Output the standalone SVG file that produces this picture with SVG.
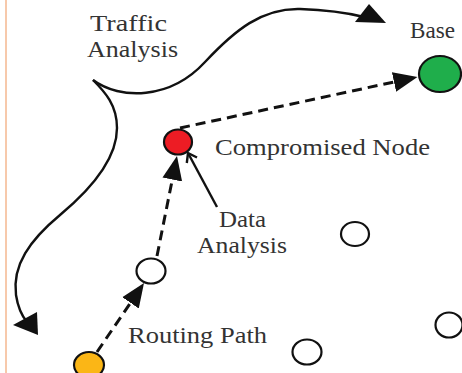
<svg xmlns="http://www.w3.org/2000/svg" width="462" height="373" viewBox="0 0 462 373">
  <style>
    .label { font-family: "Liberation Serif", "Times New Roman", serif; font-size: 23.5px; fill: #333333; }
    .node { stroke: #111; stroke-width: 2.2; }
    .plain { fill: #ffffff; }
    .route { fill: none; stroke: #111; stroke-width: 3; stroke-dasharray: 10 6; }
    .curve { fill: none; stroke: #111; stroke-width: 2.4; }
    .head { fill: #111; }
  </style>
  <defs>
    <marker id="arrow" markerUnits="userSpaceOnUse" markerWidth="26" markerHeight="22" refX="0" refY="11" orient="auto" viewBox="0 0 26 22">
      <path d="M0,1 L24,11 L0,21 z" fill="#111"/>
    </marker>
  </defs>

  <rect x="5" y="0" width="2" height="373" fill="#f7c9ab"/>

  <!-- connectors -->
  <g id="connectors">
    <!-- traffic analysis sweep -->
    <path class="curve" d="M93,80 C120,100 170,100 205,62 C235,30 262,8 300,9 C330,10 348,13 364,17"/>
    <polygon class="head" points="386,23 369,4 355,22"/>
    <path class="curve" d="M93,80 C105,92 117,105 117,128 C117,160 90,190 60,215 C30,240 12,265 16,295 C18,308 22,316 27,322"/>
    <polygon class="head" points="38,335 13,325 37,312"/>
    <!-- routing path -->
    <line class="route" x1="97" y1="352" x2="130.5" y2="302.8" marker-end="url(#arrow)"/>
    <line class="route" x1="157" y1="256" x2="172.3" y2="179.5" marker-end="url(#arrow)"/>
    <line class="route" x1="180" y1="128" x2="394" y2="82" marker-end="url(#arrow)"/>
    <!-- data analysis pointer -->
    <line class="curve" x1="217" y1="207" x2="188" y2="153"/>
    <polyline class="curve" points="186.8,163 188,153 197,157.5"/>
  </g>

  <!-- nodes -->
  <g id="base">
    <ellipse class="node" cx="440" cy="74" rx="21" ry="18" fill="#1fae4b"/>
  </g>
  <g id="compromised">
    <ellipse class="node" cx="178" cy="142" rx="14" ry="12.5" fill="#ed1c24"/>
  </g>
  <g id="relay">
    <ellipse class="node plain" cx="151" cy="271" rx="14.5" ry="12.5"/>
  </g>
  <g id="source">
    <ellipse class="node" cx="89" cy="365" rx="15" ry="13" fill="#fbb616"/>
  </g>
  <g id="node-a">
    <ellipse class="node plain" cx="355" cy="234" rx="14" ry="12"/>
  </g>
  <g id="node-b">
    <ellipse class="node plain" cx="307" cy="352" rx="14.5" ry="12.5"/>
  </g>
  <g id="node-c">
    <ellipse class="node plain" cx="449" cy="325" rx="13.5" ry="12.5"/>
  </g>

  <!-- labels -->
  <g id="labels">
    <text class="label" x="90" y="31" textLength="77" lengthAdjust="spacingAndGlyphs">Traffic</text>
    <text class="label" x="87" y="57" textLength="91" lengthAdjust="spacingAndGlyphs">Analysis</text>
    <text class="label" x="410" y="38" textLength="45" lengthAdjust="spacingAndGlyphs">Base</text>
    <text class="label" x="215" y="155" textLength="215" lengthAdjust="spacingAndGlyphs">Compromised Node</text>
    <text class="label" x="219" y="227" textLength="47" lengthAdjust="spacingAndGlyphs">Data</text>
    <text class="label" x="197" y="253" textLength="90" lengthAdjust="spacingAndGlyphs">Analysis</text>
    <text class="label" x="128" y="343" textLength="139" lengthAdjust="spacingAndGlyphs">Routing Path</text>
  </g>
</svg>
